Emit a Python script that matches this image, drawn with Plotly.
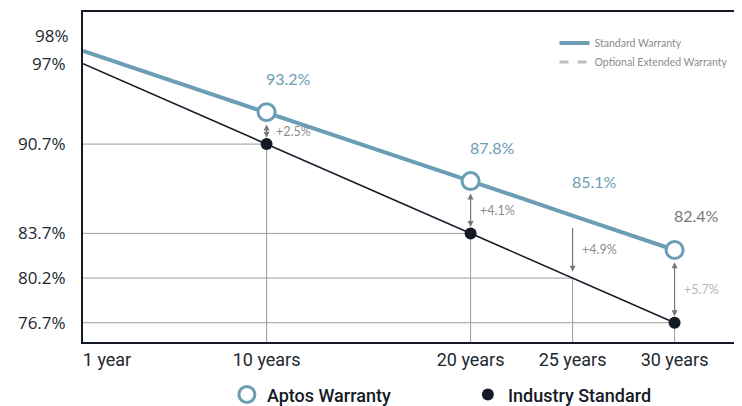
import plotly.graph_objects as go

# ---------------- data ----------------
years = [1, 10, 20, 25, 30]
year_labels = ["1 year", "10 years", "20 years", "25 years", "30 years"]
aptos = [98.0, 93.2, 87.8, 85.1, 82.4]
industry = [97.0, 90.7, 83.7, 80.2, 76.7]
marker_years = [10, 20, 30]
y_ticks = [98.0, 97.0, 90.7, 83.7, 80.2, 76.7]

# ---------------- style ----------------
BLUE = "#6b9db5"
DARK = "#141a25"
GRID = "#9c9c9c"
X_RANGE = [1, 33.06]
Y_RANGE = [75.19, 101.05]
TOP_GAP = 0.85     # arrow gap below Aptos point (value units)
BOTTOM_GAP = 0.5   # arrow gap above Industry point (value units)
TICK_FONT_X = dict(family="Roboto", size=18, color="#222831")
TICK_FONT_Y = dict(family="Open Sans", size=17, color="#222831")

fig = go.Figure()

# Aptos line (Standard Warranty)
fig.add_trace(go.Scatter(
    x=years, y=aptos, mode="lines", name="Standard Warranty",
    line=dict(color=BLUE, width=4), legend="legend2", hoverinfo="skip"))
# Optional extended warranty (legend only)
fig.add_trace(go.Scatter(
    x=[None], y=[None], mode="lines", name="Optional Extended Warranty",
    line=dict(color="#bdbdbd", width=3, dash="dash"), legend="legend2"))
# Industry line
fig.add_trace(go.Scatter(
    x=years, y=industry, mode="lines", showlegend=False,
    line=dict(color=DARK, width=1.5), hoverinfo="skip"))

mx = [yr for yr in years if yr in marker_years]
ma = [a for yr, a in zip(years, aptos) if yr in marker_years]
mi = [v for yr, v in zip(years, industry) if yr in marker_years]

fig.add_trace(go.Scatter(
    x=mx, y=ma, mode="markers", name="Aptos Warranty",
    marker=dict(symbol="circle", size=17, color="white",
                line=dict(color=BLUE, width=3))))
fig.add_trace(go.Scatter(
    x=mx, y=mi, mode="markers", name="Industry Standard",
    marker=dict(symbol="circle", size=12, color=DARK)))

shapes = []
annotations = []
for yr, a, ind in zip(years, aptos, industry):
    if yr == years[0]:
        continue
    # crosshair lines
    shapes.append(dict(type="line", xref="x", yref="y", x0=yr, x1=yr,
                       y0=Y_RANGE[0], y1=ind, layer="below",
                       line=dict(color=GRID, width=1)))
    shapes.append(dict(type="line", xref="x", yref="y", x0=X_RANGE[0], x1=yr,
                       y0=ind, y1=ind, layer="below",
                       line=dict(color=GRID, width=1)))
    # value label
    annotations.append(dict(
        x=yr, y=a, xref="x", yref="y", text=f"{a:.1f}%", showarrow=False,
        xshift=22, yshift=34,
        font=dict(family="Lato", size=16,
                  color="#7a7a7a" if yr == years[-1] else BLUE)))
    # arrow
    annotations.append(dict(
        x=yr, y=ind + BOTTOM_GAP, ax=yr, ay=a - TOP_GAP,
        xref="x", yref="y", axref="x", ayref="y", text="", showarrow=True,
        arrowhead=2, arrowsize=1, arrowwidth=1.2, arrowcolor="#777777",
        arrowside="end" if yr == 25 else "end+start", standoff=0, startstandoff=0))
    # difference label
    annotations.append(dict(
        x=yr, y=(a + ind) / 2, xref="x", yref="y", text=f"+{a - ind:.1f}%",
        showarrow=False, xanchor="left", xshift=7, yshift=-3,
        font=dict(family="Lato", size=12.5,
                  color="#b5b5b5" if yr == years[-1] else "#8c8c8c")))

# top y label drawn beside the axis, nudged up so it clears the 97% label
annotations.append(dict(
    x=0, xref="paper", y=y_ticks[0], yref="y", text=f"{y_ticks[0]:g}%",
    showarrow=False, xanchor="right", xshift=-12, yshift=15,
    font=TICK_FONT_Y))

fig.update_layout(
    width=734, height=398,
    margin=dict(l=75, r=5, t=4, b=64, autoexpand=False),
    paper_bgcolor="white", plot_bgcolor="white",
    shapes=shapes, annotations=annotations,
    xaxis=dict(range=X_RANGE, tickvals=years[1:], ticktext=year_labels[1:],
               showgrid=False, zeroline=False, showline=True, mirror=True,
               linecolor=DARK, linewidth=2, ticks="", automargin=False,
               ticklabelstandoff=0, tickfont=TICK_FONT_X),
    # first category label sits to the right of its tick
    xaxis2=dict(range=X_RANGE, overlaying="x", side="bottom",
                tickvals=years[:1], ticktext=year_labels[:1], ticklabelshift=24,
                ticklabelstandoff=5,
                showgrid=False, zeroline=False, showline=False, ticks="",
                automargin=False, tickfont=TICK_FONT_X),
    yaxis=dict(range=Y_RANGE, tickvals=y_ticks[1:],
               ticktext=[f"{v:g}%" for v in y_ticks[1:]],
               showgrid=False, zeroline=False, showline=True, mirror=True,
               linecolor=DARK, linewidth=2, ticks="", ticklabelstandoff=12,
               automargin=False, tickfont=TICK_FONT_Y),
    legend=dict(orientation="h", x=0.22, xanchor="left", y=-0.16,
                yanchor="middle", entrywidth=196, bgcolor="rgba(0,0,0,0)",
                font=dict(family="Roboto", size=18, weight=500, color=DARK)),
    legend2=dict(orientation="v", x=0.721, xanchor="left", y=0.95,
                 yanchor="top", bgcolor="rgba(0,0,0,0)", tracegroupgap=0,
                 font=dict(family="Lato", size=10.5, color="#8c8c8c")),
    showlegend=True,
)

# invisible trace that binds the overlay x axis
fig.add_trace(go.Scatter(x=[None], y=[None], xaxis="x2",
                         showlegend=False, hoverinfo="skip"))

fig.write_html("out.html")
